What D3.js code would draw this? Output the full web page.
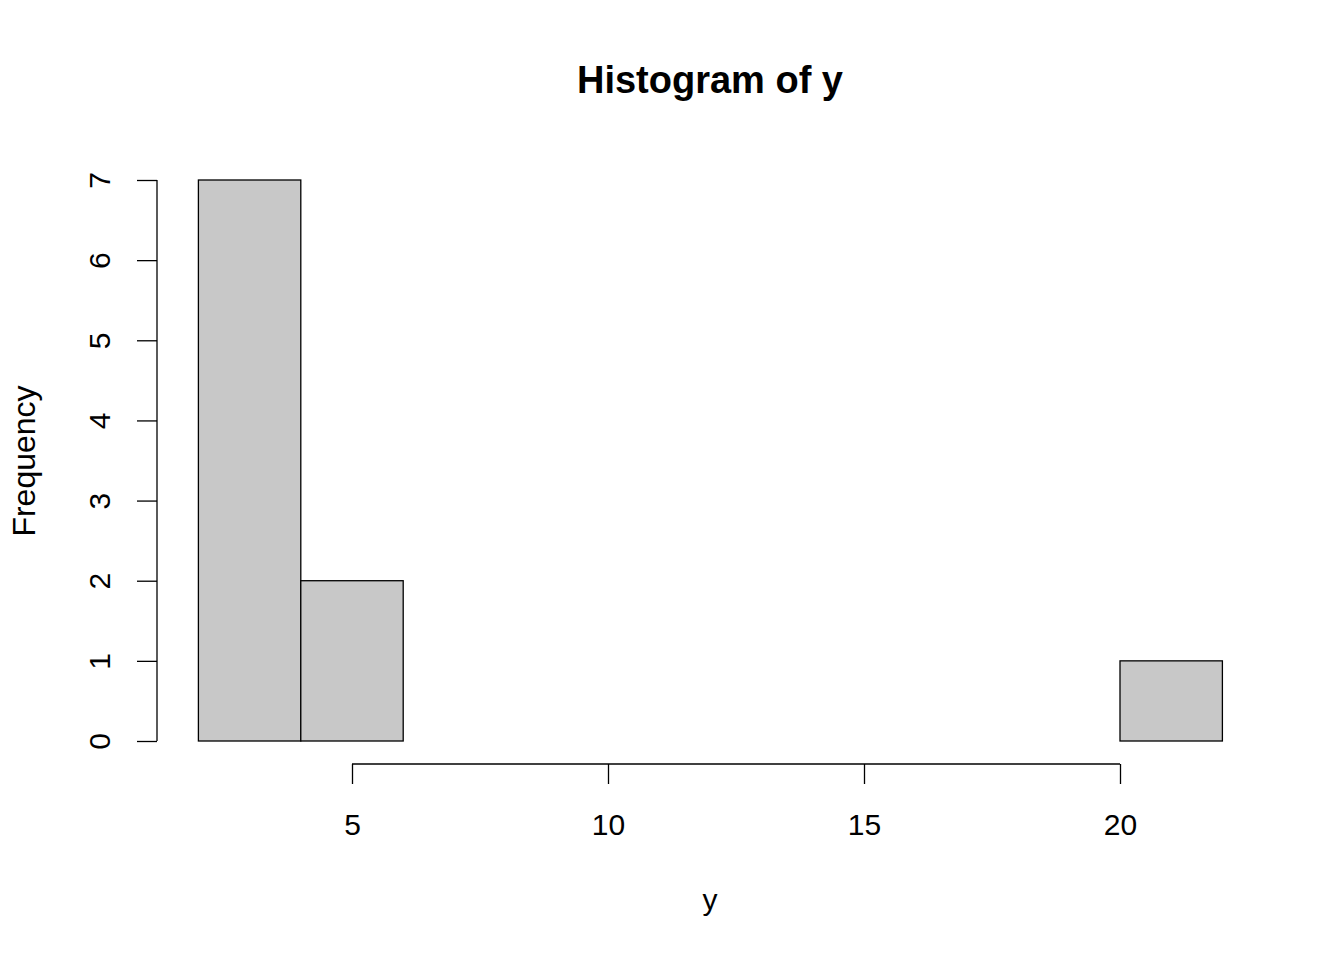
<!DOCTYPE html>
<html><head><meta charset="utf-8">
<script src="https://cdn.jsdelivr.net/npm/d3@7"></script>
<style>body{margin:0;background:#fff}svg{display:block}text{font-family:"Liberation Sans",Arial,sans-serif}</style>
</head><body>
<script>
const binEdges = [2,4,6,8,10,12,14,16,18,20,22];
const counts = [7,2,0,0,0,0,0,0,0,1];
const xTicks = [5,10,15,20];
const yTicks = [0,1,2,3,4,5,6,7];
const title = "Histogram of y";
const xLabel = "y";
const yLabel = "Frequency";

const W=1344,H=960;
const svg=d3.select("body").append("svg").attr("width",W).attr("height",H);
const x=d3.scaleLinear().domain([5,20]).range([352,1120]);
const y=d3.scaleLinear().domain([0,7]).range([741,180]);
const bins=counts.map((c,i)=>({x0:binEdges[i],x1:binEdges[i+1],c}));

svg.append("g").selectAll("rect").data(bins).join("rect")
  .attr("x",d=>x(d.x0)).attr("y",d=>y(d.c))
  .attr("width",d=>x(d.x1)-x(d.x0)).attr("height",d=>y(0)-y(d.c))
  .attr("fill","#c8c8c8").attr("stroke","#000").attr("stroke-width",1.3);

const xa=svg.append("g").attr("transform","translate(0,764)")
  .call(d3.axisBottom(x).tickValues(xTicks).tickFormat(d3.format("d")).tickSize(20).tickPadding(30).tickSizeOuter(0));
xa.select(".domain").attr("d",`M${x(5)},0H${x(20)}`).attr("stroke-width",1.3);
xa.selectAll(".tick line").attr("stroke-width",1.3);
xa.selectAll("text").attr("font-size",30).attr("fill","#000").attr("font-family","Liberation Sans, Arial, sans-serif");

const ya=svg.append("g").attr("transform","translate(157,0)")
  .call(d3.axisLeft(y).tickValues(yTicks).tickFormat(d3.format("d")).tickSize(20).tickSizeOuter(0));
ya.select(".domain").attr("d",`M0,${y(0)}V${y(7)}`).attr("stroke-width",1.3);
ya.selectAll(".tick line").attr("stroke-width",1.3);
ya.selectAll(".tick text").attr("x",null).attr("dy",null).attr("transform","translate(-47,0) rotate(-90)")
  .attr("text-anchor","middle").attr("font-size",30).attr("fill","#000").attr("font-family","Liberation Sans, Arial, sans-serif");

svg.append("text").attr("x",710).attr("y",93).attr("text-anchor","middle")
  .attr("font-size",38).attr("font-weight","bold").text(title);
svg.append("text").attr("x",710).attr("y",910).attr("text-anchor","middle")
  .attr("font-size",30).text(xLabel);
svg.append("text").attr("transform","translate(35,461) rotate(-90)").attr("text-anchor","middle")
  .attr("font-size",32).text(yLabel);
</script>
</body></html>
